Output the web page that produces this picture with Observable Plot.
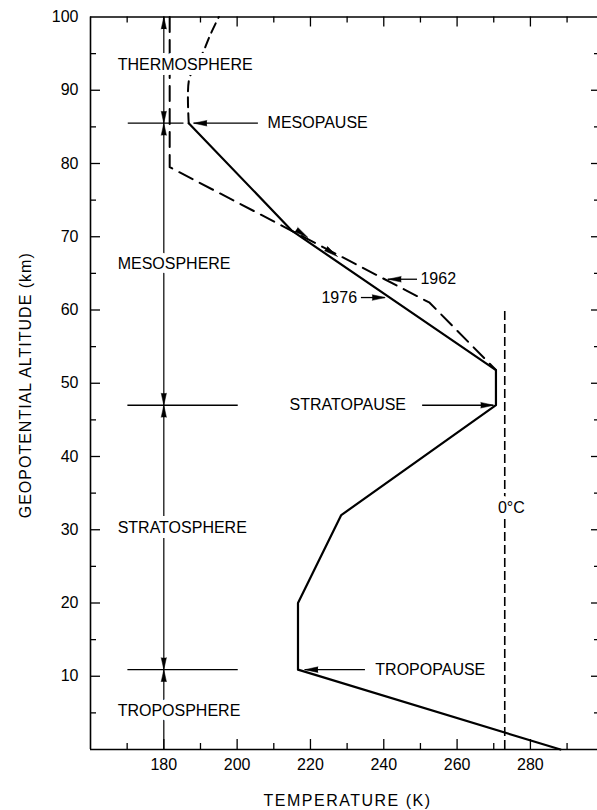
<!DOCTYPE html>
<html><head><meta charset="utf-8">
<script src="https://cdn.jsdelivr.net/npm/d3@7"></script>
<script src="https://cdn.jsdelivr.net/npm/@observablehq/plot@0.6"></script>
<style>body{margin:0;background:#fff;} svg{display:block}</style>
</head><body><div id="chart"></div>
<script>
// ---- data ----
const temp1976 = [288.2, 216.6, 216.6, 228.4, 270.6, 270.6, 215.0, 186.8];
const alt1976  = [0, 10.9, 20, 32, 47, 51.8, 70.8, 85.5];
const temp1976Upper = [186.8, 186.8, 188.3, 190.5, 192.7, 195.0];
const alt1976Upper  = [85.5, 91.2, 93.2, 95.0, 97.6, 100];
const temp1962 = [181.6, 181.6, 252.5, 270.6];
const alt1962  = [100, 79.5, 61, 51.8];
const freezingK = 273;
const freezingTop = 60;

const layerNames = ["TROPOSPHERE", "STRATOSPHERE", "MESOSPHERE", "THERMOSPHERE"];
const layerLabelAlt = [5.3, 30.3, 66.3, 93.4];
const layerLabelT = 167.4;
const layerAxisT = 180;

const boundaryNames = ["TROPOPAUSE", "STRATOPAUSE", "MESOPAUSE"];
const boundaryAlt = [10.9, 47, 85.5];
const boundaryLineFrom = [170.2, 170.2, 170.3];
const boundaryLineTo = [200.3, 200.3, 185.5];
const boundaryTextT = [237.7, 214.3, 208.3];
const boundaryArrowTail = [235.0, 250.6, 205.8];
const boundaryArrowTip = [218.5, 270.0, 188.2];

const yearNames = ["1962", "1976"];
const yearTextT = [250.0, 223.0];
const yearAlt = [64.2, 61.7];
const yearArrowTail = [249.2, 233.9];
const yearArrowTip = [241.2, 240.4];

const crossMarkT = [219.3, 227.4];
const crossMarkAlt = [69.9, 67.3];

const freezeLabel = "0°C";
const freezeLabelAlt = 33;

const xTickLabels = [180, 200, 220, 240, 260, 280];
const yTickLabels = [10, 20, 30, 40, 50, 60, 70, 80, 90, 100];
const xTickMarks = [170, 180, 190, 200, 210, 220, 230, 240, 250, 260, 270, 280, 290];
const yTickMarks = [5, 10, 15, 20, 25, 30, 35, 40, 45, 50, 55, 60, 65, 70, 75, 80, 85, 90, 95];

// ---- layout ----
const W = 597, H = 810;
const mL = 90, mT = 16.5, mB = 61, mR = 0;
const xDomain = [160, 298.3], yDomain = [0, 100];
const kx = (xDomain[1] - xDomain[0]) / (W - mL - mR);
const ky = (yDomain[1] - yDomain[0]) / (H - mT - mB);

const rows1976 = alt1976.map((a, i) => ({t: temp1976[i], a}));
const rows1976U = alt1976Upper.map((a, i) => ({t: temp1976Upper[i], a}));
const rows1962 = alt1962.map((a, i) => ({t: temp1962[i], a}));

const layers = layerNames.map((name, i) => ({name, a: layerLabelAlt[i]}));
const bounds = boundaryNames.map((name, i) => ({name, a: boundaryAlt[i], x1: boundaryLineFrom[i], x2: boundaryLineTo[i],
  tt: boundaryTextT[i], tail: boundaryArrowTail[i], tip: boundaryArrowTip[i]}));
const years = yearNames.map((name, i) => ({name, a: yearAlt[i], tt: yearTextT[i], tail: yearArrowTail[i], tip: yearArrowTip[i]}));
const pointers = [...bounds, ...years];
const crossMarks = crossMarkT.map((t, i) => ({t, a: crossMarkAlt[i]}));

const vHeads = [];
boundaryAlt.forEach(b => { vHeads.push({a: b, r: 0}); vHeads.push({a: b, r: 180}); });
vHeads.push({a: 100, r: 0});

// direction of the 1976 segment between 71 km and the stratopause, in screen degrees
const segDx = (temp1976[4] - temp1976[6]) / kx;
const segDy = (alt1976[6] - alt1976[5]) / ky;
const segRotate = 90 + Math.atan2(segDy, segDx) * 180 / Math.PI;

const isMajX = d => d % 20 === 0;
const isMajY = d => d % 10 === 0;

const font = "Liberation Sans, Arial, sans-serif";

const chart = Plot.plot({
  width: W, height: H,
  marginLeft: mL, marginTop: mT, marginBottom: mB, marginRight: mR,
  x: {domain: xDomain},
  y: {domain: yDomain},
  style: {fontFamily: font, fontSize: "16px", color: "black", background: "white"},
  marks: [
    // frame
    Plot.ruleY([0, 100], {x1: xDomain[0], x2: xDomain[1], strokeWidth: 1.6}),
    Plot.ruleX([xDomain[0]], {y1: 0, y2: 100, strokeWidth: 1.6}),
    // ticks (inside)
    Plot.ruleX(xTickMarks, {x: d => d, y1: 0, y2: d => (isMajX(d) ? 10 : 6) * ky, strokeWidth: 1.3}),
    Plot.ruleX(xTickMarks, {x: d => d, y1: 100, y2: d => 100 - (isMajX(d) ? 10 : 6) * ky, strokeWidth: 1.3}),
    Plot.ruleY(yTickMarks, {y: d => d, x1: xDomain[0], x2: d => xDomain[0] + (isMajY(d) ? 10 : 6) * kx, strokeWidth: 1.3}),
    Plot.ruleY(yTickMarks, {y: d => d, x1: xDomain[1], x2: d => xDomain[1] - (isMajY(d) ? 6 : 3) * kx, strokeWidth: 1.3}),
    // axes labels
    Plot.axisX(xTickLabels, {anchor: "bottom", tickSize: 0, tickPadding: 9, label: null, fontSize: 16}),
    Plot.axisY(yTickLabels, {anchor: "left", tickSize: 0, tickPadding: 12, label: null, fontSize: 16}),
    // 0 °C line
    Plot.ruleX([freezingK], {y1: 0, y2: freezingTop, strokeWidth: 1.6, strokeDasharray: "9,4"}),
    // layer vertical line and boundary markers
    Plot.ruleX([layerAxisT], {y1: 0, y2: 100, strokeWidth: 1.2}),
    Plot.ruleY(bounds, {y: "a", x1: "x1", x2: "x2", strokeWidth: 1.3}),
    Plot.vector(vHeads, {x: layerAxisT, y: "a", rotate: "r", length: 12, r: 2.6, shape: "spike", anchor: "end", fill: "black", stroke: "black", strokeWidth: 0.5}),
    // profiles
    Plot.line(rows1962, {x: "t", y: "a", stroke: "black", strokeWidth: 2, strokeDasharray: "15,8"}),
    Plot.line(rows1976U, {x: "t", y: "a", stroke: "black", strokeWidth: 2, strokeDasharray: "10,6", curve: "catmull-rom"}),
    Plot.line(rows1976, {x: "t", y: "a", stroke: "black", strokeWidth: 2.2, strokeLinejoin: "round"}),
    Plot.vector(crossMarks, {x: "t", y: "a", rotate: segRotate, length: 14, r: 2.6, shape: "spike", anchor: "end", fill: "black", stroke: "black", strokeWidth: 0.5}),
    // pointer arrows
    Plot.ruleY(pointers, {y: "a", x1: "tail", x2: "tip", strokeWidth: 1.3}),
    Plot.vector(pointers, {x: "tip", y: "a", rotate: d => d.tip < d.tail ? 270 : 90, length: 13, r: 2.8, shape: "spike", anchor: "end", fill: "black", stroke: "black", strokeWidth: 0.5}),
    // texts
    Plot.text(layers, {x: layerLabelT, y: "a", text: "name", textAnchor: "start", fontSize: 16, fill: "black", stroke: "white", strokeWidth: 10}),
    Plot.text([freezeLabel], {x: 274.8, y: freezeLabelAlt, text: d => d, fontSize: 16, fill: "black", stroke: "white", strokeWidth: 10}),
    Plot.text(bounds, {x: "tt", y: "a", text: "name", textAnchor: "start", fontSize: 16, fill: "black"}),
    Plot.text(years, {x: "tt", y: "a", text: "name", textAnchor: "start", fontSize: 16, fill: "black"}),
    // axis titles
    Plot.text(["TEMPERATURE (K)"], {frameAnchor: "bottom", text: d => d, dy: 51, dx: 3.5, textAnchor: "middle", lineAnchor: "middle", fontSize: 16, fill: "black"}),
    Plot.text(["GEOPOTENTIAL ALTITUDE (km)"], {frameAnchor: "left", text: d => d, rotate: -90, dx: -65, dy: 2, textAnchor: "middle", lineAnchor: "middle", fontSize: 16, fill: "black"})
  ]
});

d3.select(chart).selectAll("text").each(function() {
  const t = this.textContent;
  if (t === "TEMPERATURE (K)") d3.select(this).attr("letter-spacing", "1.5px");
  if (t === "GEOPOTENTIAL ALTITUDE (km)") d3.select(this).attr("letter-spacing", "1px");
});

document.getElementById("chart").appendChild(chart);
</script>
</body></html>
